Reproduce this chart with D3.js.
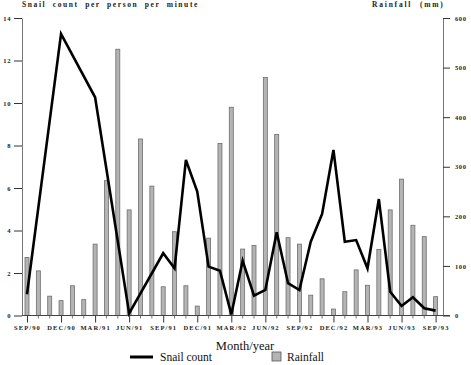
<!DOCTYPE html>
<html>
<head>
<meta charset="utf-8">
<script src="https://cdn.jsdelivr.net/npm/d3@7"></script>
<style>
  body { margin: 0; background: #fff; }
  svg { display: block; }
</style>
</head>
<body>
<script>

// monthly rainfall (mm), SEP/90 .. SEP/93
const rainfall = [117, 90, 39, 30, 60, 32, 144, 272, 537, 213, 356, 261,
    58, 169, 60, 19, 156, 347, 420, 134, 141, 480, 365, 157,
    144, 41, 74, 13, 48, 92, 61, 133, 213, 275, 182, 159, 38];

// snail count per person per minute (month index from SEP/90)
const snailMonth = [0, 3, 6, 9, 12, 13, 14, 15, 16, 17, 18, 19, 20, 21, 22,
    23, 24, 25, 26, 27, 28, 29, 30, 31, 32, 33, 34, 35, 36];
const snail = [1.0, 13.25, 10.27, 0.1, 2.93, 2.22, 7.32, 5.83, 2.3, 2.11, 0.05,
    2.58, 0.93, 1.2, 3.92, 1.52, 1.2, 3.47, 4.78, 7.79, 3.47, 3.55, 2.22,
    5.48, 1.12, 0.45, 0.86, 0.34, 0.23];

const tickLabels = ["SEP/90", "DEC/90", "MAR/91", "JUN/91", "SEP/91", "DEC/91",
    "MAR/92", "JUN/92", "SEP/92", "DEC/92", "MAR/93", "JUN/93", "SEP/93"];

const leftTicks = [0, 2, 4, 6, 8, 10, 12, 14];
const rightTicks = [0, 100, 200, 300, 400, 500, 600];

const svg = d3.select("body")
    .append("svg")
    .attr("width", 471)
    .attr("height", 365);

const x = d3.scaleLinear().domain([0, 36]).range([27, 435.6]);
const yL = d3.scaleLinear().domain([0, 14]).range([315.5, 18]);
const yR = d3.scaleLinear().domain([0, 600]).range([315.5, 18]);

const tickFont = "'Liberation Serif', serif";

// bars
svg.selectAll("rect.bar")
    .data(rainfall)
    .enter()
    .append("rect")
    .attr("class", "bar")
    .attr("x", (d, i) => x(i) - 2)
    .attr("y", d => yR(d))
    .attr("width", 4)
    .attr("height", d => yR(0) - yR(d))
    .attr("fill", "#b4b4b4")
    .attr("stroke", "#6e6e6e")
    .attr("stroke-width", 0.8);

// left axis
const leftAxis = svg.append("g")
    .attr("transform", "translate(22,0)")
    .call(d3.axisLeft(yL).tickValues(leftTicks).tickSize(8).tickSizeOuter(0).tickPadding(3));

// right axis
const rightAxis = svg.append("g")
    .attr("transform", "translate(443,0)")
    .call(d3.axisRight(yR).tickValues(rightTicks).tickSize(7).tickSizeOuter(0).tickPadding(5));

// x axis
svg.append("line")
    .attr("x1", 22).attr("x2", 450)
    .attr("y1", yL(0)).attr("y2", yL(0))
    .attr("stroke", "#444").attr("stroke-width", 1);

const xAxis = svg.append("g")
    .attr("transform", `translate(0,${yL(0)})`)
    .call(d3.axisBottom(x)
        .tickValues(d3.range(0, 37, 3))
        .tickFormat((d, i) => tickLabels[i])
        .tickSize(7).tickSizeOuter(0).tickPadding(3));
xAxis.select(".domain").remove();

svg.selectAll("line.minor")
    .data(d3.range(0, 37).filter(i => i % 3 !== 0))
    .enter()
    .append("line")
    .attr("class", "minor")
    .attr("x1", d => x(d)).attr("x2", d => x(d))
    .attr("y1", yL(0)).attr("y2", yL(0) + 3)
    .attr("stroke", "#555").attr("stroke-width", 0.8);

[leftAxis, rightAxis, xAxis].forEach(g => {
    g.selectAll(".domain").attr("stroke", "#777").attr("stroke-width", 1);
    g.selectAll(".tick line").attr("stroke", "#333").attr("stroke-width", 1);
    g.selectAll("text")
        .attr("fill", "#222")
        .style("font-family", tickFont)
        .style("font-size", "6.5px")
        .style("font-weight", "bold")
        .style("letter-spacing", "0.6px");
});
xAxis.selectAll("text").style("letter-spacing", "1.1px");

// snail line
const line = d3.line()
    .x((d, i) => x(snailMonth[i]))
    .y(d => yL(d));

svg.append("path")
    .datum(snail)
    .attr("d", line)
    .attr("fill", "none")
    .attr("stroke", "#000")
    .attr("stroke-width", 2.6)
    .attr("stroke-linejoin", "miter");

// titles
svg.append("text")
    .text("Snail count per person per minute")
    .attr("x", 22).attr("y", 7)
    .style("font-family", tickFont)
    .style("font-size", "7.5px")
    .style("font-weight", "bold")
    .style("letter-spacing", "1.6px")
    .style("word-spacing", "3px")
    .attr("fill", "#222");

svg.append("text")
    .text("Rainfall (mm)")
    .attr("x", 372).attr("y", 7)
    .style("font-family", tickFont)
    .style("font-size", "7.5px")
    .style("font-weight", "bold")
    .style("letter-spacing", "1.8px")
    .style("word-spacing", "4px")
    .attr("fill", "#222");

svg.append("text")
    .text("Month/year")
    .attr("x", 245).attr("y", 350)
    .attr("text-anchor", "middle")
    .style("font-family", tickFont)
    .style("font-size", "12.5px")
    .attr("fill", "#111");

// legend (kept inside the frame)
svg.append("line")
    .attr("x1", 130).attr("x2", 153)
    .attr("y1", 357).attr("y2", 357)
    .attr("stroke", "#000").attr("stroke-width", 3);

svg.append("text")
    .text("Snail count")
    .attr("x", 160).attr("y", 360.5)
    .style("font-family", tickFont)
    .style("font-size", "11.5px")
    .attr("fill", "#111");

svg.append("rect")
    .attr("x", 272).attr("y", 352)
    .attr("width", 9).attr("height", 9)
    .attr("fill", "#b4b4b4")
    .attr("stroke", "#555").attr("stroke-width", 0.8);

svg.append("text")
    .text("Rainfall")
    .attr("x", 287).attr("y", 360.5)
    .style("font-family", tickFont)
    .style("font-size", "11.5px")
    .attr("fill", "#111");

</script>
</body>
</html>
